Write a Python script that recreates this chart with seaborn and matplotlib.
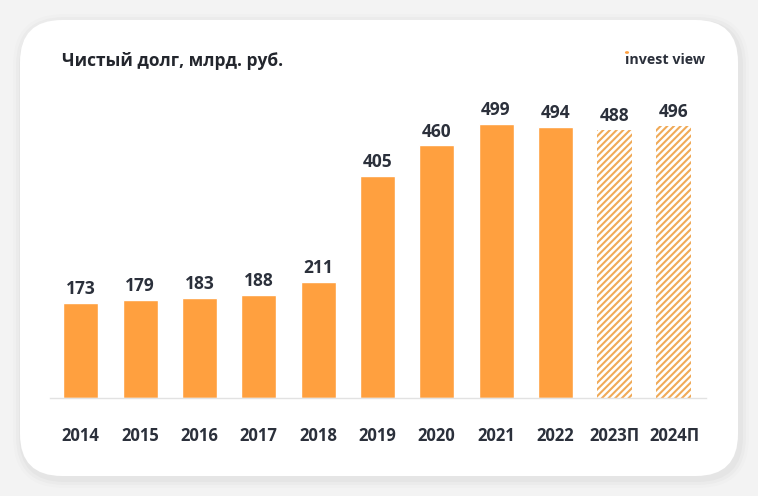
import matplotlib
matplotlib.use("Agg")
import matplotlib.pyplot as plt
from matplotlib.patches import FancyBboxPatch, Circle
import seaborn as sns
import pandas as pd

years = ["2014", "2015", "2016", "2017", "2018", "2019", "2020", "2021", "2022", "2023П", "2024П"]
values = [173, 179, 183, 188, 211, 405, 460, 499, 494, 488, 496]
forecast = [False] * 9 + [True, True]

sns.set_theme(style="white")
plt.rcParams['font.family'] = ['Open Sans', 'DejaVu Sans']
plt.rcParams['hatch.linewidth'] = 1.5

W, H = 758, 496
fig = plt.figure(figsize=(W / 100, H / 100), dpi=100)
fig.patch.set_facecolor("#f3f3f3")

# card with soft shadow
for i, a in enumerate([0.012, 0.018, 0.025]):
    pad = (3 - i) * 3
    sh = FancyBboxPatch(((20 - pad + 2) / W, (20 - pad - 3) / H), (718 + 2 * pad) / W, (456 + 2 * pad) / H,
                        boxstyle=f"round,pad=0,rounding_size={(42 + pad) / W}",
                        transform=fig.transFigure, facecolor="black", edgecolor="none", alpha=a,
                        mutation_aspect=W / H, zorder=0)
    fig.patches.append(sh)
card = FancyBboxPatch((20 / W, 20 / H), 718 / W, 456 / H,
                      boxstyle=f"round,pad=0,rounding_size={42 / W}",
                      transform=fig.transFigure, facecolor="white", edgecolor="none",
                      mutation_aspect=W / H, zorder=1)
fig.patches.append(card)

ax = fig.add_axes([50 / W, 1 - 398 / H, 656 / W, 285.5 / H])
ax.set_facecolor("none")
ax.set_zorder(2)

df = pd.DataFrame({"year": years, "value": values, "forecast": forecast})
orange = "#ffa03f"
sns.barplot(data=df, x="year", y="value", color=orange, width=0.59, ax=ax, saturation=1)

for bar, f in zip(ax.patches, forecast):
    if f:
        bar.set_facecolor("white")
        bar.set_edgecolor("#f0aa58")
        bar.set_hatch("/////")
        bar.set_linewidth(0)
        try:
            bar.set_hatch_linewidth(1.5)
        except AttributeError:
            pass

for i, v in enumerate(values):
    ax.text(i, v + 9, str(v), ha="center", va="bottom", fontsize=12.5, fontweight="bold", color="#2b303b")

ax.set_xlim(-0.52, 10.54)
ax.set_ylim(0, 520)
ax.set_xlabel("")
ax.set_ylabel("")
ax.set_yticks([])
for s in ["top", "right", "left"]:
    ax.spines[s].set_visible(False)
ax.spines["bottom"].set_color("#e2e2e2")
ax.spines["bottom"].set_linewidth(1)
ax.tick_params(axis="x", length=0, pad=21, labelsize=12, labelcolor="#2b303b")
for lbl in ax.get_xticklabels():
    lbl.set_fontweight("bold")

fig.text(62 / W, 1 - 61 / H, "Чистый долг, млрд. руб.", fontsize=12.5, fontweight="bold",
         color="#23262d", va="center", ha="left", zorder=3)
fig.text(705 / W, 1 - 60 / H, "ınvest view", fontsize=10.3, fontweight="bold",
         color="#2b303b", va="center", ha="right", zorder=3)
dot = Circle((627 / W, 1 - 52.5 / H), 2.1 / W, transform=fig.transFigure, facecolor=orange,
             edgecolor="none", zorder=4)
fig.patches.append(dot)

fig.savefig("out.png", dpi=100, facecolor=fig.get_facecolor())
